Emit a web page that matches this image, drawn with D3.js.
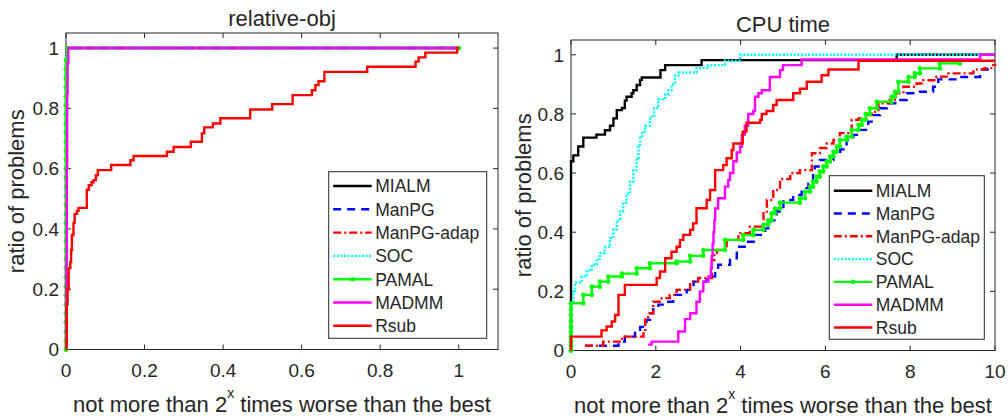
<!DOCTYPE html>
<html><head><meta charset="utf-8">
<script src="https://cdn.jsdelivr.net/npm/d3@7"></script>
<style>
body{margin:0;background:#fff}
text{font-family:"Liberation Sans",Arial,Helvetica,sans-serif;fill:#262626}
</style>
</head><body>
<svg id="chart" width="1008" height="420"></svg>
<script>
// ---------------- data ----------------
const seriesNames = ["MIALM","ManPG","ManPG-adap","SOC","PAMAL","MADMM","Rsub"];
const seriesColors = ["#000000","#0000ff","#ff0000","#00ffff","#00ff00","#ff00ff","#ff0000"];
const seriesDash = [null,"8,6","8,3,2,3","2,1.6",null,null,null];

const leftTitle = "relative-obj";
const rightTitle = "CPU time";
const yLabelText = "ratio of problems";

const leftXTicks = [0,0.2,0.4,0.6,0.8,1];
const leftXTickLabels = ["0","0.2","0.4","0.6","0.8","1"];
const rightXTicks = [0,2,4,6,8,10];
const rightXTickLabels = ["0","2","4","6","8","10"];
const yTicks = [0,0.2,0.4,0.6,0.8,1];
const yTickLabels = ["0","0.2","0.4","0.6","0.8","1"];

// left panel (relative-obj): [x, y] stair points
const leftMIALM = [[0,0],[0,0.95],[0.002,1],[1,1]];
const leftManPG = [[0,0],[0.001,0.97],[0.003,1],[1,1]];
const leftManPGadap = [[0,0],[0.001,0.96],[0.003,1],[1,1]];
const leftSOC = [[0,0],[0.001,0.98],[0.002,1],[1,1]];
const leftPAMAL = [[0,0],[0,0.03],[0,0.06],[0,0.09],[0,0.12],[0,0.15],[0,0.18],[0,0.21],[0,0.24],[0,0.27],[0,0.3],[0,0.33],[0,0.36],[0,0.39],[0,0.42],[0,0.45],[0,0.48],[0,0.51],[0,0.54],[0,0.57],[0,0.6],[0,0.63],[0,0.66],[0,0.69],[0,0.72],[0,0.75],[0,0.78],[0,0.81],[0,0.84],[0,0.87],[0,0.9],[0,0.93],[0,0.96],[0.003,1],[1,1]];
const leftMADMM = [[0,0.01],[0.001,0.3],[0.002,0.6],[0.003,0.85],[0.004,0.95],[0.006,1],[1,1]];
const leftRsub = [[0,0],[0.001,0.02],[0.002,0.15],[0.004,0.2],[0.0067,0.27],[0.011,0.29],[0.013,0.33],[0.015,0.38],[0.019,0.42],[0.022,0.45],[0.028,0.46],[0.032,0.47],[0.053,0.53],[0.058,0.545],[0.065,0.555],[0.07,0.562],[0.076,0.578],[0.081,0.595],[0.115,0.612],[0.164,0.628],[0.172,0.642],[0.257,0.656],[0.274,0.672],[0.318,0.689],[0.346,0.717],[0.352,0.737],[0.374,0.75],[0.393,0.767],[0.469,0.796],[0.525,0.814],[0.577,0.844],[0.626,0.86],[0.635,0.877],[0.643,0.89],[0.658,0.921],[0.767,0.938],[0.89,0.955],[0.898,0.969],[0.915,0.985],[0.996,1.0],[1,1.0]];

// right panel (CPU time)
const rightMIALM = [[0,0],[0,0.64],[0.055,0.66],[0.17,0.69],[0.29,0.72],[0.6,0.73],[0.8,0.745],[0.92,0.76],[1.0,0.785],[1.08,0.813],[1.2,0.82],[1.27,0.845],[1.31,0.858],[1.43,0.87],[1.47,0.88],[1.55,0.898],[1.63,0.915],[1.67,0.923],[2.11,0.948],[2.22,0.965],[3.08,0.982],[7.68,1.0],[10,1.0]];
const rightManPG = [[0.33,0.016],[1.12,0.03],[1.27,0.047],[1.51,0.064],[1.63,0.08],[1.78,0.104],[1.86,0.126],[1.94,0.14],[2.06,0.155],[2.22,0.165],[2.41,0.188],[2.73,0.205],[2.89,0.233],[3.2,0.239],[3.32,0.25],[3.4,0.267],[3.47,0.29],[3.75,0.312],[3.91,0.351],[4.14,0.368],[4.34,0.391],[4.58,0.413],[4.69,0.44],[4.85,0.47],[5.01,0.509],[5.24,0.526],[5.44,0.549],[5.6,0.565],[5.71,0.6],[5.75,0.622],[5.87,0.644],[6.19,0.667],[6.35,0.68],[6.5,0.712],[6.66,0.729],[6.82,0.746],[7.01,0.774],[7.13,0.796],[7.29,0.819],[7.45,0.836],[7.68,0.847],[7.92,0.87],[8.23,0.875],[8.54,0.892],[8.66,0.917],[9.1,0.925],[9.65,0.95],[10,0.95]];
const rightManPGadap = [[0.33,0.016],[0.76,0.03],[1.2,0.047],[1.71,0.064],[1.75,0.104],[1.82,0.126],[1.94,0.165],[2.14,0.177],[2.33,0.188],[2.49,0.205],[2.81,0.233],[3.0,0.245],[3.32,0.306],[3.38,0.33],[3.44,0.34],[3.67,0.374],[3.95,0.397],[4.22,0.419],[4.54,0.464],[4.62,0.509],[4.77,0.543],[4.93,0.58],[5.17,0.6],[5.4,0.61],[5.68,0.667],[5.87,0.685],[6.03,0.7],[6.19,0.712],[6.34,0.735],[6.54,0.74],[6.62,0.78],[6.78,0.785],[6.97,0.796],[7.09,0.807],[7.25,0.836],[7.52,0.847],[7.64,0.87],[7.84,0.892],[8.15,0.903],[8.31,0.914],[8.62,0.926],[8.9,0.937],[9.49,0.95],[9.75,0.955],[9.96,0.965],[10,0.97]];
const rightSOC = [[0,0],[0,0.16],[0.055,0.2],[0.094,0.23],[0.25,0.25],[0.37,0.27],[0.49,0.29],[0.61,0.31],[0.68,0.33],[0.8,0.35],[0.92,0.38],[1.0,0.41],[1.08,0.44],[1.16,0.47],[1.23,0.5],[1.31,0.53],[1.39,0.57],[1.47,0.61],[1.55,0.65],[1.59,0.69],[1.63,0.72],[1.68,0.74],[1.75,0.76],[1.86,0.79],[1.96,0.82],[2.06,0.85],[2.22,0.865],[2.29,0.88],[2.37,0.9],[2.45,0.93],[2.53,0.94],[2.96,0.955],[3.24,0.965],[3.63,0.98],[3.99,1.0],[10,1.0]];
const rightPAMAL = [[0,0],[0,0.016],[0,0.03],[0,0.047],[0,0.064],[0,0.08],[0,0.1],[0,0.12],[0,0.14],[0,0.16],[0.29,0.188],[0.49,0.216],[0.68,0.233],[0.88,0.25],[1.2,0.26],[1.55,0.278],[1.86,0.295],[2.49,0.301],[2.81,0.32],[3.12,0.34],[3.63,0.374],[4.06,0.39],[4.3,0.408],[4.54,0.425],[4.65,0.44],[4.73,0.464],[4.81,0.48],[4.93,0.5],[5.4,0.515],[5.52,0.537],[5.64,0.554],[5.71,0.571],[5.79,0.588],[5.87,0.605],[5.95,0.622],[6.03,0.639],[6.11,0.656],[6.19,0.672],[6.27,0.69],[6.34,0.712],[6.5,0.723],[6.62,0.746],[6.78,0.763],[6.86,0.78],[6.95,0.8],[7.05,0.819],[7.21,0.841],[7.56,0.858],[7.64,0.875],[7.72,0.909],[7.96,0.925],[8.11,0.937],[8.23,0.954],[8.7,0.971],[9.17,0.971]];
const rightMADMM = [[1.82,0.02],[1.9,0.03],[2.53,0.064],[2.69,0.106],[2.81,0.126],[2.96,0.165],[3.04,0.2],[3.12,0.233],[3.24,0.25],[3.3,0.28],[3.32,0.32],[3.34,0.36],[3.36,0.4],[3.38,0.44],[3.4,0.48],[3.47,0.515],[3.63,0.554],[3.71,0.577],[3.75,0.6],[3.83,0.64],[3.91,0.67],[3.99,0.69],[4.03,0.73],[4.1,0.76],[4.18,0.8],[4.3,0.81],[4.34,0.858],[4.42,0.87],[4.5,0.88],[4.69,0.925],[4.93,0.948],[5.0,0.965],[5.44,0.984],[9.65,1.0],[10,1.0]];
const rightRsub = [[0,0],[0,0.047],[0.72,0.068],[0.84,0.081],[0.96,0.098],[1.04,0.12],[1.12,0.188],[1.27,0.222],[2.02,0.245],[2.1,0.267],[2.22,0.312],[2.37,0.334],[2.49,0.351],[2.57,0.374],[2.65,0.391],[2.81,0.408],[2.88,0.43],[2.96,0.481],[3.2,0.509],[3.28,0.543],[3.4,0.61],[3.59,0.627],[3.67,0.65],[3.79,0.678],[3.83,0.70],[4.05,0.74],[4.14,0.77],[4.46,0.78],[4.5,0.8],[4.61,0.81],[4.77,0.83],[4.85,0.847],[5.24,0.87],[5.4,0.885],[5.56,0.909],[5.91,0.931],[6.07,0.95],[6.78,0.98],[10,0.98]];

const leftSeries = [leftMIALM,leftManPG,leftManPGadap,leftSOC,leftPAMAL,leftMADMM,leftRsub];
const rightSeries = [rightMIALM,rightManPG,rightManPGadap,rightSOC,rightPAMAL,rightMADMM,rightRsub];

// ---------------- drawing ----------------
const svg = d3.select("#chart");
const TICK_FS = 19, LABEL_FS = 22, LEG_FS = 17.5, LW = 2.4;

function panel(cfg){
  const x = d3.scaleLinear().domain(cfg.xDomain).range(cfg.xRange);
  const y = d3.scaleLinear().domain([0,1.05]).range(cfg.yRange);
  const g = svg.append("g");
  const [x0,x1] = x.range(), [yb,yt] = y.range();

  g.append("rect").attr("x",x0).attr("y",yt).attr("width",x1-x0).attr("height",yb-yt)
    .attr("fill","#fff").attr("stroke","#262626").attr("stroke-width",1);

  const tl = 5;
  cfg.xTicks.forEach((t,i)=>{
    const px = x(t);
    g.append("line").attr("x1",px).attr("x2",px).attr("y1",yb).attr("y2",yb-tl).attr("stroke","#262626");
    g.append("line").attr("x1",px).attr("x2",px).attr("y1",yt).attr("y2",yt+tl).attr("stroke","#262626");
    g.append("text").attr("x",px).attr("y",yb+27.5).attr("text-anchor","middle")
      .attr("font-size",TICK_FS).text(cfg.xTickLabels[i]);
  });
  yTicks.forEach((t,i)=>{
    const py = y(t);
    g.append("line").attr("x1",x0).attr("x2",x0+tl).attr("y1",py).attr("y2",py).attr("stroke","#262626");
    g.append("line").attr("x1",x1).attr("x2",x1-tl).attr("y1",py).attr("y2",py).attr("stroke","#262626");
    g.append("text").attr("x",x0-7).attr("y",py).attr("dy","0.36em").attr("text-anchor","end")
      .attr("font-size",TICK_FS).text(yTickLabels[i]);
  });

  const line = d3.line().x(d=>x(d[0])).y(d=>y(d[1])).curve(d3.curveStepAfter);
  cfg.series.forEach((data,k)=>{
    const p = g.append("path").datum(data).attr("d",line).attr("fill","none")
      .attr("stroke",seriesColors[k]).attr("stroke-width",LW).attr("stroke-linejoin","miter");
    if(seriesDash[k]) p.attr("stroke-dasharray",seriesDash[k]);
    if(seriesNames[k]==="PAMAL"){
      const corners = [];
      data.forEach((d,i)=>{
        corners.push([d[0],d[1]]);
        if(i<data.length-1) corners.push([data[i+1][0],d[1]]);
      });
      g.selectAll(null).data(corners).enter().append("circle")
        .attr("cx",d=>x(d[0])).attr("cy",d=>y(d[1])).attr("r",2.3).attr("fill",seriesColors[k]);
    }
  });

  g.append("text").attr("x",(x0+x1)/2).attr("y",cfg.titleY).attr("text-anchor","middle")
    .attr("font-size",LABEL_FS).text(cfg.title);
  const xl = g.append("text").attr("x",(x0+x1)/2).attr("y",yb+62).attr("text-anchor","middle")
    .attr("font-size",LABEL_FS);
  xl.append("tspan").text("not more than 2");
  xl.append("tspan").attr("dy",-14).attr("font-size",14).text("x");
  xl.append("tspan").attr("dy",14).text(" times worse than the best");
  const cy = (yb+yt)/2;
  g.append("text").attr("transform",`translate(${cfg.yLabelX},${cy}) rotate(-90)`)
    .attr("text-anchor","middle").attr("font-size",LABEL_FS).text(yLabelText);

  const L = cfg.legend;
  g.append("rect").attr("x",L.x).attr("y",L.y).attr("width",L.w).attr("height",L.h)
    .attr("fill","#fff").attr("stroke","#262626").attr("stroke-width",1);
  seriesNames.forEach((name,k)=>{
    const ry = L.row0 + k*L.step;
    const ln = g.append("line").attr("x1",L.x+4.5).attr("x2",L.x+43).attr("y1",ry).attr("y2",ry)
      .attr("stroke",seriesColors[k]).attr("stroke-width",LW);
    if(seriesDash[k]) ln.attr("stroke-dasharray",seriesDash[k]);
    if(name==="PAMAL") g.append("circle").attr("cx",L.x+23.7).attr("cy",ry).attr("r",2.3).attr("fill",seriesColors[k]);
    g.append("text").attr("x",L.x+46.5).attr("y",ry).attr("dy","0.36em").attr("font-size",LEG_FS).text(name);
  });
}

panel({xDomain:[0,1.1], xRange:[66,498], yRange:[349.5,33], xTicks:leftXTicks, xTickLabels:leftXTickLabels,
  series:leftSeries, title:leftTitle, titleY:26, yLabelX:24,
  legend:{x:328.7,y:171.7,w:158,h:166.6,row0:186,step:23.3}});
panel({xDomain:[0,10], xRange:[571,995], yRange:[350.5,40], xTicks:rightXTicks, xTickLabels:rightXTickLabels,
  series:rightSeries, title:rightTitle, titleY:32, yLabelX:531,
  legend:{x:829.3,y:175.7,w:155,h:163.6,row0:190.7,step:22.8}});
</script>
</body></html>
